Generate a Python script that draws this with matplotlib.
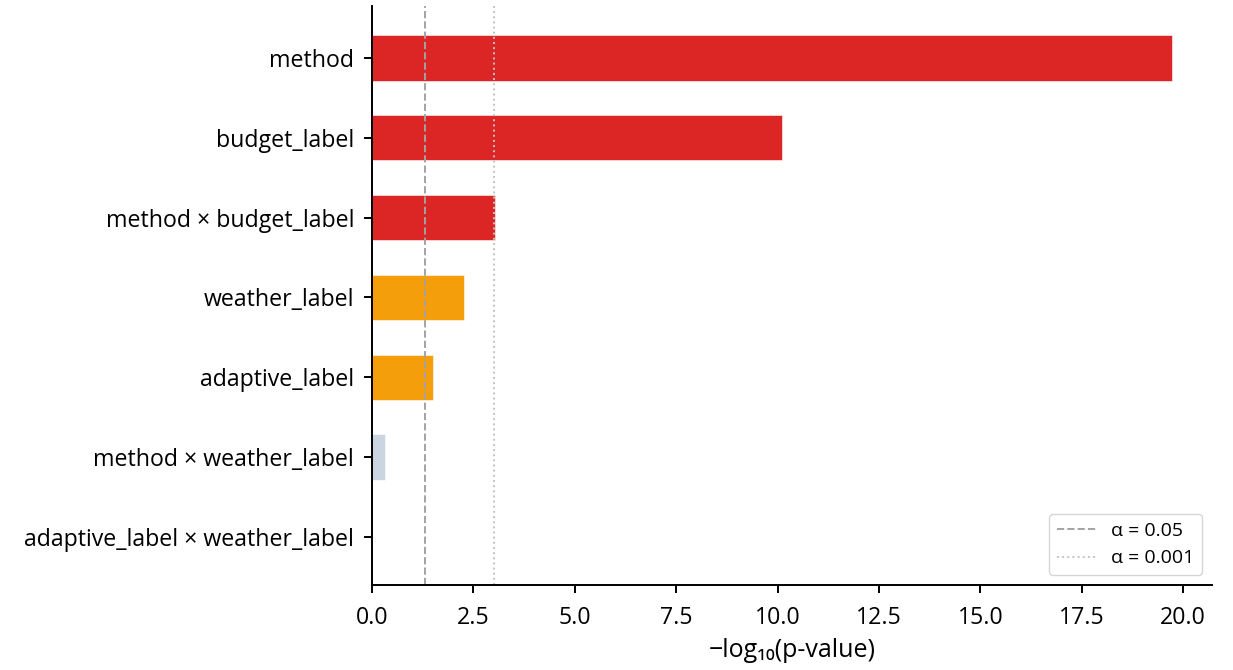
import numpy as np
import matplotlib
matplotlib.use("Agg")
import matplotlib.pyplot as plt

plt.rcParams['font.family'] = ['Open Sans', 'DejaVu Sans']

terms = ["method", "budget_label", "method × budget_label", "weather_label",
         "adaptive_label", "method × weather_label", "adaptive_label × weather_label"]
neglog_p = [19.72, 10.1, 3.03, 2.28, 1.5, 0.32, 0.01]
colors = ["#dc2626", "#dc2626", "#dc2626", "#f59e0b", "#f59e0b", "#cbd5e1", "#cbd5e1"]
alpha_05 = -np.log10(0.05)
alpha_001 = -np.log10(0.001)

fig = plt.figure(figsize=(12.33, 6.7), dpi=100)
ax = fig.add_axes([0.3017, 0.1269, 0.6813, 0.8642])

y = np.arange(len(terms))
ax.barh(y, neglog_p, height=0.57, color=colors, edgecolor="white", linewidth=0.4)
ax.axvline(alpha_05, color="#a3a3a3", linestyle="--", linewidth=1.4, label="α = 0.05")
ax.axvline(alpha_001, color="#c4c4c4", linestyle=":", linewidth=1.4, label="α = 0.001")

ax.set_yticks(y)
ax.set_yticklabels(terms)
ax.set_ylim(6.6, -0.65)
ax.set_xlim(0, 20.71)
ax.set_xticks(np.arange(0, 20.1, 2.5))
ax.set_xlabel("−log₁₀(p-value)", fontsize=18, labelpad=6)
ax.tick_params(labelsize=16.7, width=1.4, length=5.8)
ax.tick_params(axis="y", pad=7)
ax.tick_params(axis="x", pad=9)
for s in ["top", "right"]:
    ax.spines[s].set_visible(False)
for s in ["left", "bottom"]:
    ax.spines[s].set_linewidth(1.4)

leg = ax.legend(loc="lower right", fontsize=14, frameon=True)
leg.get_frame().set_edgecolor("#cccccc")

fig.savefig("out.png", dpi=100)
